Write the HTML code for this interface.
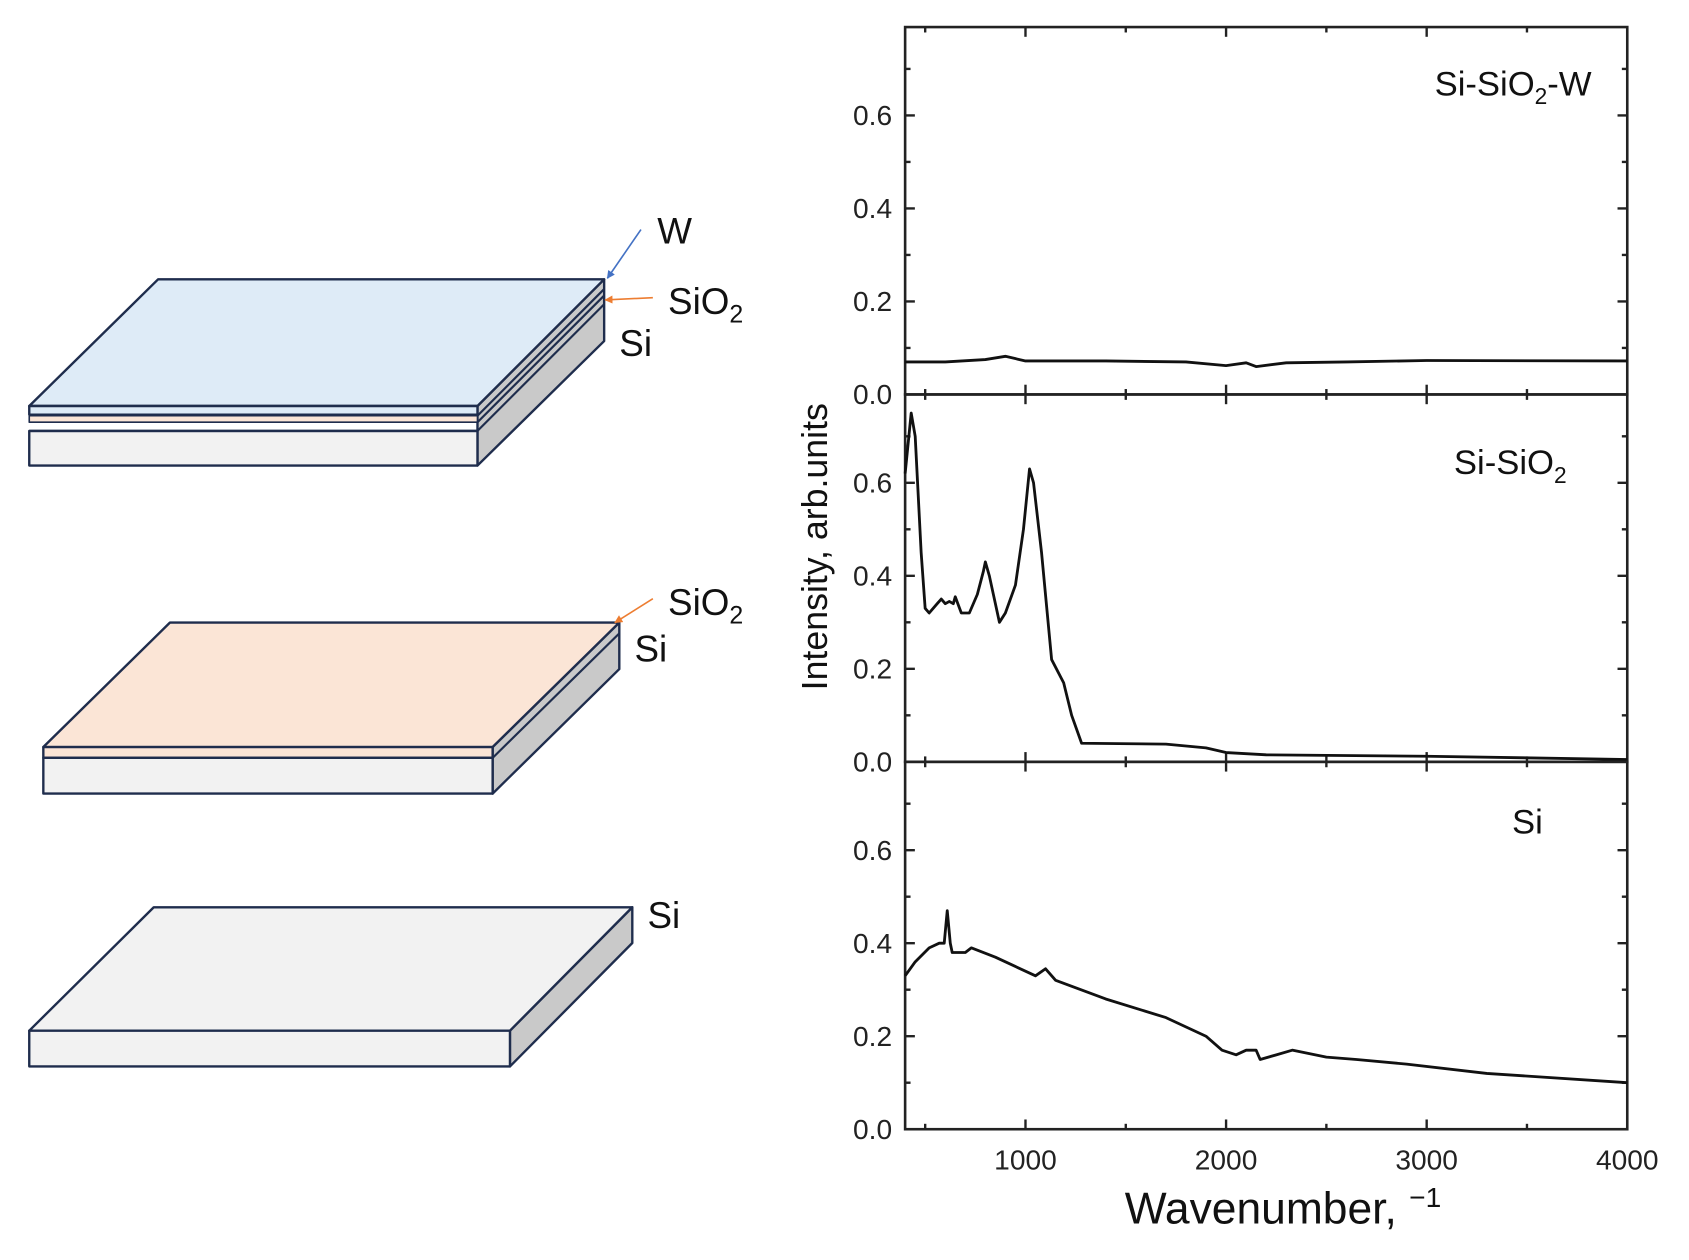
<!DOCTYPE html>
<html><head><meta charset="utf-8"><style>
html,body{margin:0;padding:0;background:#fff;}
svg{display:block;font-family:"Liberation Sans",Arial,sans-serif;}
</style></head><body>
<svg id="fig" width="1689" height="1260" viewBox="0 0 1560 1163.8">
<defs>
<marker id="ab" viewBox="0 0 10 10" refX="9" refY="5" markerWidth="5" markerHeight="5" orient="auto"><path d="M0,0L10,5L0,10z" fill="#4472c4"/></marker>
<marker id="ao" viewBox="0 0 10 10" refX="9" refY="5" markerWidth="5" markerHeight="5" orient="auto"><path d="M0,0L10,5L0,10z" fill="#ed7d31"/></marker>
</defs>
<g stroke="#1f2d4d" stroke-width="2.2" stroke-linejoin="round">
  <g>
    <polygon points="441,375 558,258 558,315 441,430" fill="#c9c9c9"/>
    <line x1="441" y1="384" x2="558" y2="267" stroke-width="2"/>
    <line x1="441" y1="390" x2="558" y2="273" stroke-width="2"/>
    <line x1="441" y1="398" x2="558" y2="281" stroke-width="2"/>
    <polygon points="27,375 146,258 558,258 441,375" fill="#deebf7"/>
    <rect x="27" y="375" width="414" height="8" fill="#deebf7"/>
    <rect x="27" y="384" width="414" height="6" fill="#fbe5d6" stroke-width="1.5"/>
    <rect x="27" y="398" width="414" height="32" fill="#f2f2f2"/>
    <line x1="27" y1="398" x2="441" y2="398"/>
  </g>
  <g>
    <polygon points="455,690 572,575 572,618 455,733" fill="#c9c9c9"/>
    <line x1="455" y1="700" x2="572" y2="585" stroke-width="2"/>
    <polygon points="40,690 157,575 572,575 455,690" fill="#fbe5d6"/>
    <rect x="40" y="690" width="415" height="10" fill="#fbe5d6"/>
    <rect x="40" y="700" width="415" height="33" fill="#f2f2f2"/>
  </g>
  <g>
    <polygon points="471,952 584,838 584,871 471,985" fill="#c9c9c9"/>
    <polygon points="27,952 142,838 584,838 471,952" fill="#f2f2f2"/>
    <rect x="27" y="952" width="444" height="33" fill="#f2f2f2"/>
  </g>
  <line x1="592" y1="212" x2="561" y2="257" stroke="#4472c4" stroke-width="1.5" marker-end="url(#ab)"/>
  <line x1="603" y1="275" x2="559" y2="277" stroke="#ed7d31" stroke-width="1.5" marker-end="url(#ao)"/>
  <line x1="603" y1="553" x2="568" y2="575" stroke="#ed7d31" stroke-width="1.5" marker-end="url(#ao)"/>
</g>
<g font-size="34" fill="#111">
  <text x="607" y="225">W</text>
  <text x="617" y="290">SiO<tspan font-size="23" dy="8">2</tspan></text>
  <text x="572" y="329">Si</text>
  <text x="617" y="568">SiO<tspan font-size="23" dy="8">2</tspan></text>
  <text x="586" y="611">Si</text>
  <text x="598" y="857">Si</text>
</g>
<g id="chart"></g>
</svg>
<script>
const xTicks=[1000,2000,3000,4000];
const yTicks=[0.0,0.2,0.4,0.6];
const panelNames=["Si-SiO2-W","Si-SiO2","Si"];
const wX=[400,600,800,900,1000,1400,1800,2000,2100,2150,2300,2600,3000,4000];
const wY=[0.07,0.07,0.075,0.082,0.072,0.072,0.07,0.062,0.068,0.06,0.068,0.07,0.073,0.072];
const sX=[400,430,450,480,500,520,560,580,600,620,640,650,680,720,760,790,800,820,840,870,900,950,990,1020,1040,1080,1130,1190,1230,1280,1700,1900,2000,2200,3000,4000];
const sY=[0.62,0.75,0.7,0.45,0.33,0.32,0.34,0.35,0.34,0.345,0.34,0.355,0.32,0.32,0.36,0.41,0.43,0.4,0.36,0.3,0.32,0.38,0.5,0.63,0.6,0.45,0.22,0.17,0.1,0.04,0.038,0.03,0.02,0.015,0.012,0.005];
const siX=[400,450,520,570,595,610,625,635,700,730,850,900,1050,1100,1150,1400,1700,1900,1980,2050,2100,2150,2170,2250,2330,2500,2650,2900,3300,4000];
const siY=[0.33,0.36,0.39,0.40,0.40,0.47,0.40,0.38,0.38,0.39,0.37,0.36,0.33,0.345,0.32,0.28,0.24,0.20,0.17,0.16,0.17,0.17,0.15,0.16,0.17,0.155,0.15,0.14,0.12,0.10];
const seriesX=[wX,sX,siX], seriesY=[wY,sY,siY];
const NS="http://www.w3.org/2000/svg";
const L=836,R=1503,T=25,B=1043,PH=(B-T)/3,YMAX=0.79;
const g=document.getElementById('chart');
function xs(v){return L+(v-400)/(4000-400)*(R-L);}
function ys(p,v){return T+PH*(p+1)-v/YMAX*PH;}
function mk(t,a,parent){const e=document.createElementNS(NS,t);for(const k in a)e.setAttribute(k,a[k]);(parent||g).appendChild(e);return e;}
for(let p=0;p<3;p++){
  const top=T+PH*p,bot=top+PH;
  const fr=mk('rect',{x:L,y:top,width:R-L,height:PH,fill:'none',stroke:'#222','stroke-width':2.4});
  
  
  for(let v=0.1;v<YMAX;v+=0.1){
    const maj=Math.round(v*10)%2===0, len=maj?9:5, y=ys(p,v);
    mk('line',{x1:L,y1:y,x2:L+len,y2:y,stroke:'#222','stroke-width':2.2});
    mk('line',{x1:R,y1:y,x2:R-len,y2:y,stroke:'#222','stroke-width':2.2});
  }
  yTicks.forEach(v=>{
    const t=mk('text',{x:L-12,y:ys(p,v)+9,'text-anchor':'end','font-size':26,fill:'#222'});
    t.textContent=v.toFixed(1);
    
    
  });
  for(let v=500;v<=4000;v+=500){
    const maj=v%1000===0,len=maj?9:5,x=xs(v);
    mk('line',{x1:x,y1:bot,x2:x,y2:bot-len,stroke:'#222','stroke-width':2.2});
    mk('line',{x1:x,y1:top,x2:x,y2:top+len,stroke:'#222','stroke-width':2.2});
  }
  const X=seriesX[p],Y=seriesY[p];
  let d='';
  X.forEach((xv,i)=>{d+=(i?'L':'M')+xs(xv).toFixed(1)+','+ys(p,Y[i]).toFixed(1);});
  const pl=mk('path',{d:d,fill:'none',stroke:'#111','stroke-width':2.6,'stroke-linejoin':'round'});
  
  
}
xTicks.forEach(v=>{
  const t=mk('text',{x:xs(v),y:1080,'text-anchor':'middle','font-size':26,fill:'#222'});
  t.textContent=v;
  
  
});
const lab=[[1470,88],[1447,438],[1425,770]];
panelNames.forEach((n,p)=>{
  const t=mk('text',{x:lab[p][0],y:lab[p][1],'text-anchor':'end','font-size':32,fill:'#111'});
  
  
  if(n.indexOf('SiO2')>=0){
    const parts=n.split('SiO2');
    t.appendChild(document.createTextNode(parts[0]+'SiO'));
    const s=mk('tspan',{'font-size':21,dy:8},t);s.textContent='2';
    if(parts[1]){const r=mk('tspan',{dy:-8},t);r.textContent=parts[1];}
  } else t.textContent=n;
});
const xt=mk('text',{x:1185,y:1130,'text-anchor':'middle','font-size':41,fill:'#111'});
xt.textContent='Wavenumber, ';
const sup=mk('tspan',{'font-size':26,dy:-15},xt);sup.textContent='\u22121';


const yt=mk('text',{x:0,y:0,'text-anchor':'middle','font-size':33,fill:'#111',transform:'translate(764,505) rotate(-90)'});
yt.textContent='Intensity, arb.units';


</script>
</body></html>
